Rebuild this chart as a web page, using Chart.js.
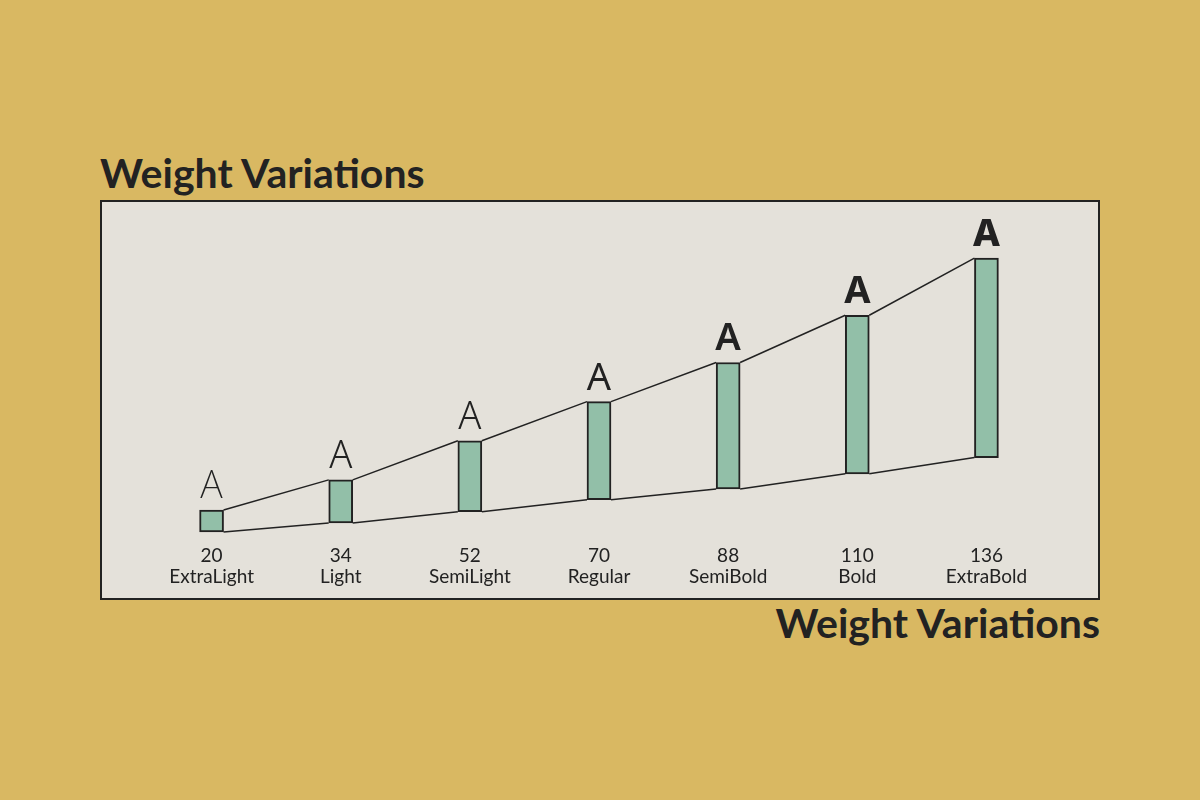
<!DOCTYPE html>
<html lang="en">
<head>
  <meta charset="UTF-8">
  <title>Weight Variations</title>
  <style>
    body {
      margin: 0;
      width: 1200px;
      height: 800px;
      background-color: #d9b862;
      position: relative;
      overflow: hidden;
      font-family: Lato, "Noto Sans", sans-serif;
      color: #222222;
    }

    .title {
      position: absolute;
      font-size: 41px;
      font-weight: 700;
      line-height: 1;
      white-space: nowrap;
    }

    #titleTop {
      left: 100px;
      top: 152px;
    }

    #titleBottom {
      right: 100px;
      top: 602px;
    }

    .panel {
      position: absolute;
      left: 100px;
      top: 200px;
      width: 996px;
      height: 396px;
      border: 2px solid #222222;
      background-color: #e4e1da;
    }
  </style>
</head>
<body>
  <div class="title" id="titleTop">Weight Variations</div>
  <div class="panel">
    <canvas id="weightChart" width="996" height="396"></canvas>
  </div>
  <div class="title" id="titleBottom">Weight Variations</div>

  <script src="https://cdn.jsdelivr.net/npm/chart.js"></script>
  <script>
    // values (arbitrary units, 0 at the baseline)
    const weightNumbers = ['20', '34', '52', '70', '88', '110', '136'];
    const weightNames = ['ExtraLight', 'Light', 'SemiLight', 'Regular', 'SemiBold', 'Bold', 'ExtraBold'];
    const barBottoms = [3, 6, 9.7, 13.7, 17.3, 22.3, 27.7];
    const barTops = [10.3, 20.3, 33.3, 46.3, 59.3, 75, 94];

    // font weight used for the sample letter above each bar
    const letterWeights = [200, 300, 350, 400, 600, 700, 800];

    const ink = '#222222';

    const edgeLines = {
      id: 'edgeLines',
      afterDatasetsDraw(chart) {
        const bars = chart.getDatasetMeta(0).data;
        const ctx = chart.ctx;
        ctx.save();
        ctx.strokeStyle = ink;
        ctx.lineWidth = 1.5;
        for (let i = 0; i < bars.length - 1; i++) {
          const a = bars[i], b = bars[i + 1];
          ctx.beginPath();
          ctx.moveTo(a.x + a.width / 2, a.y);
          ctx.lineTo(b.x - b.width / 2, b.y);
          ctx.moveTo(a.x + a.width / 2, a.base);
          ctx.lineTo(b.x - b.width / 2, b.base);
          ctx.stroke();
        }
        // sample letters
        ctx.fillStyle = ink;
        ctx.textAlign = 'center';
        ctx.textBaseline = 'alphabetic';
        bars.forEach((bar, i) => {
          ctx.font = letterWeights[i] + ' 38px "Noto Sans"';
          ctx.fillText('A', bar.x, bar.y - 12);
        });
        ctx.restore();
      }
    };

    const ctx = document.getElementById('weightChart').getContext('2d');
    new Chart(ctx, {
      type: 'bar',
      data: {
        labels: weightNumbers.map((n, i) => [n, weightNames[i]]),
        datasets: [{
          data: barBottoms.map((b, i) => [b, barTops[i]]),
          backgroundColor: '#92bfa8',
          borderColor: ink,
          borderWidth: 2,
          borderSkipped: false,
          barThickness: 24
        }]
      },
      options: {
        responsive: false,
        animation: false,
        layout: {
          padding: { left: 45, right: 47, top: 38, bottom: 6 }
        },
        plugins: {
          legend: { display: false },
          tooltip: { enabled: false }
        },
        scales: {
          x: {
            grid: { display: false, drawTicks: false },
            border: { display: false },
            ticks: {
              color: ink,
              padding: 5,
              font: { family: 'Lato', size: 19, lineHeight: 1.08 }
            }
          },
          y: {
            display: false,
            min: 0,
            max: 100
          }
        }
      },
      plugins: [edgeLines]
    });
  </script>
</body>
</html>
